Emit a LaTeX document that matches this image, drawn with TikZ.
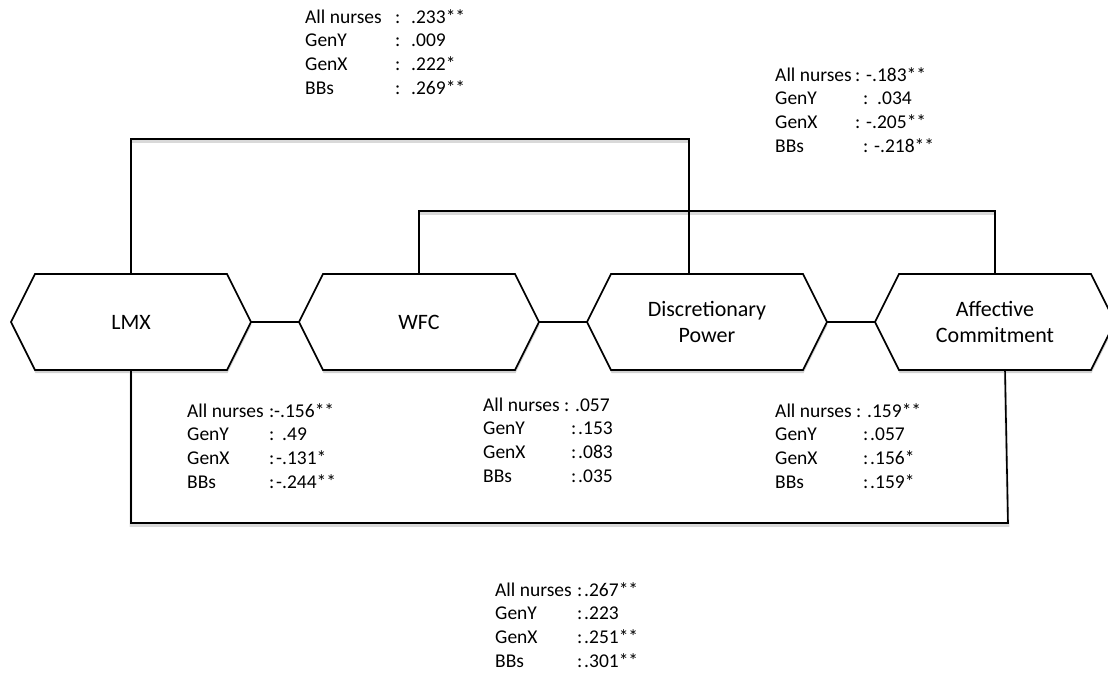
\documentclass[tikz,border=0pt]{standalone}
\usepackage{fontspec}
\setmainfont{Carlito}
\usetikzlibrary{calc,shadows}
\newcommand\hexagonbox[4]{% name, x of left point, y of centre, text
  \coordinate (#1-w) at (#2,#3);
  \coordinate (#1-nw) at ($(#1-w)+(24,-48)$);
  \coordinate (#1-ne) at ($(#1-w)+(216,-48)$);
  \coordinate (#1-e) at ($(#1-w)+(240,0)$);
  \coordinate (#1-se) at ($(#1-w)+(216,48)$);
  \coordinate (#1-sw) at ($(#1-w)+(24,48)$);
  \draw[hexshape] (#1-w) -- (#1-nw) -- (#1-ne) -- (#1-e) -- (#1-se) -- (#1-sw) -- cycle;
  \node[hexlabel] (#1) at ($(#1-w)!0.5!(#1-e)$) {#4};
}
\newcommand\srow[4]{\makebox[#2pt][l]{#1}\makebox[\dimexpr#3pt-#2pt\relax][l]{:}#4}
\begin{document}
\begin{tikzpicture}[x=1pt,y=-1pt,
  conn/.style={line width=1.6pt,black},
  connshadow/.style={line width=2.6pt,black!15},
  hexshape/.style={draw=black,line width=1.6pt,fill=white,
    drop shadow={shadow xshift=0.5pt,shadow yshift=-3pt,fill=black!18,opacity=1}},
  hexlabel/.style={font=\fontsize{22}{26}\selectfont,align=center,inner sep=0pt},
  stat/.style={anchor=base west,inner sep=0pt,font=\fontsize{19.5}{23.8}\selectfont}]
\useasboundingbox (0,0) rectangle (1108,672);

% connector shadows
\begin{scope}[transform canvas={yshift=-2.5pt}]
  \draw[connshadow] (131,274) -- (131,139) -- (689,139) -- (689,274);
  \draw[connshadow] (419,274) -- (419,211) -- (995,211) -- (995,274);
  \draw[connshadow] (131,370) -- (131,523) -- (1008,523) -- (1005,370);
\end{scope}

\hexagonbox{lmx}{11}{322}{LMX}
\hexagonbox{wfc}{299}{322}{WFC}
\hexagonbox{dp}{587}{322}{Discretionary\\Power}
\hexagonbox{ac}{875}{322}{Affective\\Commitment}

\coordinate (lmx-n) at ($(lmx-nw)!0.5!(lmx-ne)$);
\coordinate (lmx-s) at ($(lmx-sw)!0.5!(lmx-se)$);
\coordinate (wfc-n) at ($(wfc-nw)!0.5!(wfc-ne)$);
\coordinate (dp-n) at ($(dp-nw)+(78,0)$);
\coordinate (ac-n) at ($(ac-nw)!0.5!(ac-ne)$);
\coordinate (ac-s) at ($(ac-sw)+(106,0)$);

\draw[conn] (lmx-e) -- (wfc-w);
\draw[conn] (wfc-e) -- (dp-w);
\draw[conn] (dp-e) -- (ac-w);
\draw[conn] (lmx-n) -- ++(0,-135) -| (dp-n);
\draw[conn] (wfc-n) -- ++(0,-63) -| (ac-n);
\draw[conn] (lmx-s) -- ++(0,153) -- ($(ac-s)+(3,153)$) -- (ac-s);

\node[stat] (s-lmxdp) at (305,23) {\begin{tabular}[t]{@{}l@{}}
  \srow{All nurses}{90}{106}{.233**}\\
  \srow{GenY}{90}{106}{.009}\\
  \srow{GenX}{90}{106}{.222*}\\
  \srow{BBs}{90}{106}{.269**}\end{tabular}};

\node[stat] (s-wfcac) at (775,81) {\begin{tabular}[t]{@{}l@{}}
  \srow{All nurses}{80}{91}{-.183**}\\
  \srow{GenY}{88}{102}{.034}\\
  \srow{GenX}{80}{91}{-.205**}\\
  \srow{BBs}{88}{99}{-.218**}\end{tabular}};

\node[stat] (s-lmxwfc) at (187,417) {\begin{tabular}[t]{@{}l@{}}
  \srow{All nurses}{82}{87}{-.156**}\\
  \srow{GenY}{82}{95}{.49}\\
  \srow{GenX}{82}{89}{-.131*}\\
  \srow{BBs}{82}{89}{-.244**}\end{tabular}};

\node[stat] (s-wfcdp) at (483,411) {\begin{tabular}[t]{@{}l@{}}
  \srow{All nurses}{81}{92}{.057}\\
  \srow{GenY}{88}{95}{.153}\\
  \srow{GenX}{88}{95}{.083}\\
  \srow{BBs}{88}{95}{.035}\end{tabular}};

\node[stat] (s-dpac) at (775,417) {\begin{tabular}[t]{@{}l@{}}
  \srow{All nurses}{81}{92}{.159**}\\
  \srow{GenY}{88}{95}{.057}\\
  \srow{GenX}{88}{95}{.156*}\\
  \srow{BBs}{88}{95}{.159*}\end{tabular}};

\node[stat] (s-lmxac) at (495,596) {\begin{tabular}[t]{@{}l@{}}
  \srow{All nurses}{82}{89}{.267**}\\
  \srow{GenY}{82}{89}{.223}\\
  \srow{GenX}{82}{89}{.251**}\\
  \srow{BBs}{82}{89}{.301**}\end{tabular}};
\end{tikzpicture}
\end{document}
